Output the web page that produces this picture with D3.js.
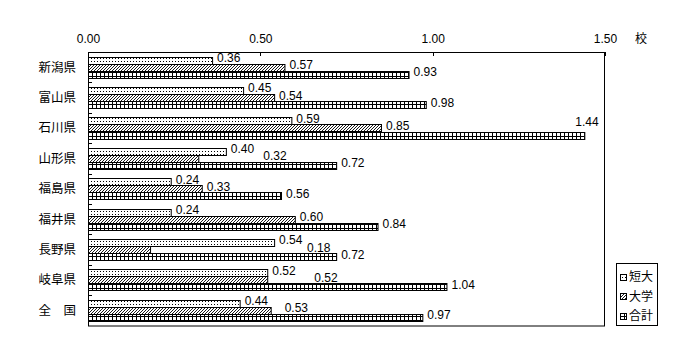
<!DOCTYPE html>
<html><head><meta charset="utf-8">
<script src="https://cdn.jsdelivr.net/npm/d3@7"></script>
<style>
html,body{margin:0;padding:0;background:#fff;}
svg{display:block;}
</style></head>
<body>
<svg id="chart" width="700" height="360"></svg>
<script>
const categories = ["新潟県","富山県","石川県","山形県","福島県","福井県","長野県","岐阜県","全　国"];
const seriesNames = ["短大","大学","合計"];
const tandai  = [0.36,0.45,0.59,0.40,0.24,0.24,0.54,0.52,0.44];
const daigaku = [0.57,0.54,0.85,0.32,0.33,0.60,0.18,0.52,0.53];
const goukei  = [0.93,0.98,1.44,0.72,0.56,0.84,0.72,1.04,0.97];
const xTicks = [0, 0.5, 1.0, 1.5];
const unitLabel = "校";

// layout only: manual label displacements seen in the reference (px)
const labelNudge = {"山形県|1":[60,0],"長野県|1":[152,0],"岐阜県|1":[42,0],"全　国|1":[9,0],"石川県|2":[-14,-11]};

(function(){
const series = [tandai, daigaku, goukei];
const patIds = ["pDot","pHatch","pGrid"];
const svg = d3.select("#chart");
const jp = "'Noto Sans CJK JP','Noto Sans CJK SC',sans-serif";
const num = "'Liberation Sans',Arial,sans-serif";

const defs = svg.append("defs");
const p1 = defs.append("pattern").attr("id","pDot").attr("patternUnits","userSpaceOnUse").attr("width",3).attr("height",3);
p1.append("rect").attr("width",3).attr("height",3).attr("fill","#fff");
p1.append("rect").attr("x",1).attr("y",1).attr("width",1).attr("height",1).attr("fill","#000");
const p2 = defs.append("pattern").attr("id","pHatch").attr("patternUnits","userSpaceOnUse").attr("width",3).attr("height",3);
p2.append("rect").attr("width",3).attr("height",3).attr("fill","#fff");
p2.append("path").attr("d","M-1,1 L1,-1 M0,3 L3,0 M2,4 L4,2").attr("stroke","#000").attr("stroke-width",0.9);
const p3 = defs.append("pattern").attr("id","pGrid").attr("patternUnits","userSpaceOnUse").attr("width",4).attr("height",4);
p3.append("rect").attr("width",4).attr("height",4).attr("fill","#fff");
p3.append("rect").attr("x",0).attr("y",0).attr("width",1).attr("height",4).attr("fill","#000");
p3.append("rect").attr("x",0).attr("y",0).attr("width",4).attr("height",1).attr("fill","#000");

const pl = 88, pr = 605, pt = 52, pb = 325.5;
const x = d3.scaleLinear().domain([0,1.5]).range([pl,pr]);
const y = d3.scaleBand().domain(categories).range([pt,pb]).paddingInner(0.3).paddingOuter(0.15);
const ys = d3.scaleBand().domain(d3.range(3)).range([0,y.bandwidth()]);

const ax = svg.append("g").attr("transform",`translate(0,${pt})`)
  .call(d3.axisTop(x).tickValues(xTicks).tickFormat(d3.format(".2f")).tickSizeInner(-4).tickSizeOuter(0).tickPadding(9));
ax.select(".domain").remove();
ax.selectAll("line").attr("stroke","#000").attr("shape-rendering","crispEdges");
ax.selectAll("text").attr("font-family",num).attr("font-size",12).attr("fill","#000");
svg.append("text").attr("x",635).attr("y",43).attr("font-family",jp).attr("font-size",12).text(unitLabel);

const step = y.step();
svg.append("g").selectAll("line").data(d3.range(1,categories.length)).join("line")
  .attr("x1",pl).attr("x2",pl+4)
  .attr("y1",i=>Math.round(pt+i*step)+0.5).attr("y2",i=>Math.round(pt+i*step)+0.5)
  .attr("stroke","#000");

const g = svg.append("g");
categories.forEach((c,ci)=>{
  series.forEach((s,si)=>{
    const v = s[ci];
    const y0 = y(c)+ys(si);
    g.append("rect").attr("x",x(0)+0.5).attr("y",Math.round(y0)+0.5)
      .attr("width",x(v)-x(0)).attr("height",Math.round(ys.bandwidth()))
      .attr("fill",`url(#${patIds[si]})`).attr("stroke","#000").attr("stroke-width",1);
  });
});
categories.forEach((c,ci)=>{
  series.forEach((s,si)=>{
    const v = s[ci];
    const cy = y(c)+ys(si)+ys.bandwidth()/2;
    const n = labelNudge[c+"|"+si] || [0,0];
    svg.append("text").attr("x",x(v)+5+n[0]).attr("y",cy+2+n[1])
      .attr("font-family",num).attr("font-size",12).attr("fill","#000")
      .text(d3.format(".2f")(v));
  });
});

svg.append("rect").attr("x",pl+0.5).attr("y",pt+0.5).attr("width",pr-pl-1).attr("height",pb-pt)
  .attr("fill","none").attr("stroke","#000").attr("stroke-width",1);

svg.append("g").selectAll("text").data(categories).join("text")
  .attr("x",76).attr("y",d=>y(d)+y.bandwidth()/2).attr("dy","0.36em")
  .attr("text-anchor","end").attr("font-family",jp).attr("font-size",12.5).attr("fill","#000")
  .text(d=>d);

const lg = svg.append("g");
lg.append("rect").attr("x",616.5).attr("y",263.5).attr("width",41).attr("height",62).attr("fill","#fff").attr("stroke","#000");
const rowY = [277,296.5,316];
seriesNames.forEach((nm,i)=>{
  lg.append("rect").attr("x",620.5).attr("y",Math.round(rowY[i]-3.5)+0.5).attr("width",6).attr("height",6)
    .attr("fill",`url(#${patIds[i]})`).attr("stroke","#000");
  lg.append("text").attr("x",629).attr("y",rowY[i]).attr("dy","0.36em")
    .attr("font-family",jp).attr("font-size",12).attr("fill","#000").text(nm);
});
})();
</script>
</body></html>
